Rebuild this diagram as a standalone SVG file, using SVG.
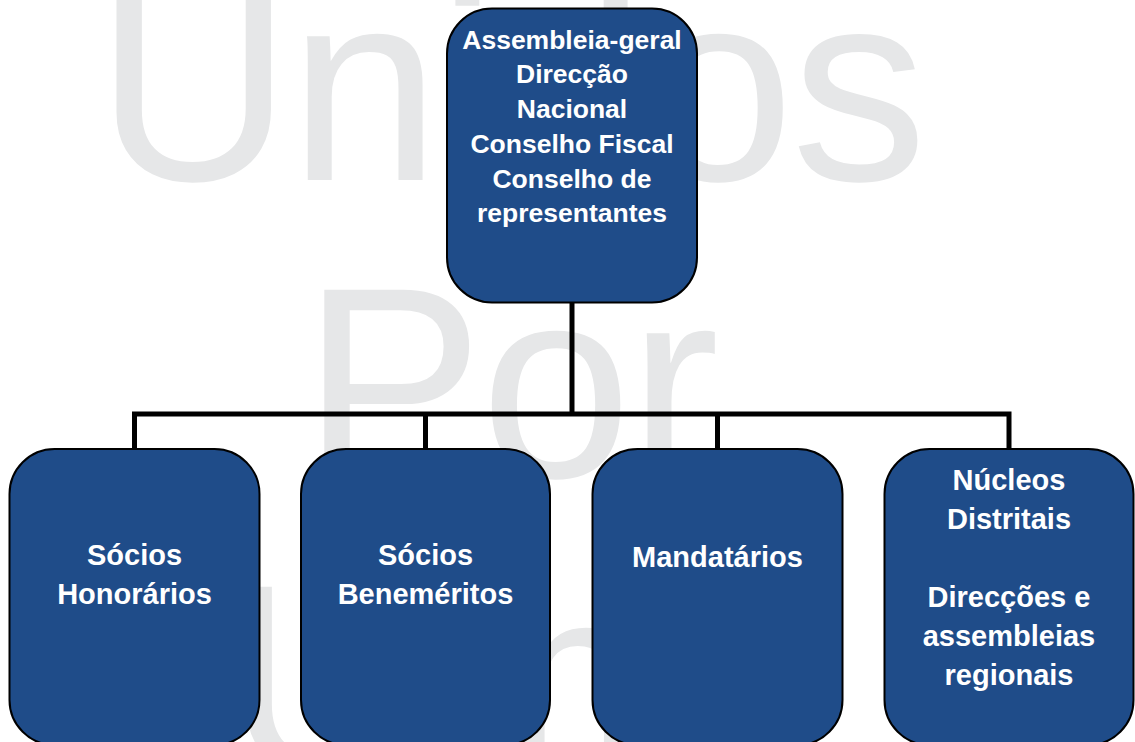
<svg xmlns="http://www.w3.org/2000/svg" width="1135" height="742" viewBox="0 0 1135 742">
  <style>
    .wm { font-family: "Liberation Sans", Arial, sans-serif; font-size: 272px; fill: #e6e7e8; letter-spacing: -3px; }
    .node { fill: #1f4c89; stroke: #000; stroke-width: 2; }
    .lbl { font-family: "Liberation Sans", Arial, sans-serif; font-weight: bold; fill: #fff; text-anchor: middle; }
    .top { font-size: 26.5px; }
    .bot { font-size: 29px; }
    .conn { fill: none; stroke: #000; stroke-width: 5; stroke-linejoin: miter; }
  </style>
  <rect width="1135" height="742" fill="#fff"/>
  <g id="watermark">
    <text class="wm" x="95.5" y="180">Unidos</text>
    <text class="wm" x="302" y="477">Por</text>
    <text class="wm" x="225.5" y="774">Um</text>
  </g>
  <g id="connectors">
    <path class="conn" d="M572 302 V414"/>
    <path class="conn" d="M134.5 449 V414 H1009 V449"/>
    <path class="conn" d="M425.5 414 V449"/>
    <path class="conn" d="M717.5 414 V449"/>
  </g>
  <g id="node-top">
    <rect class="node" x="447" y="8.5" width="250" height="294" rx="45" ry="45"/>
    <text class="lbl top" x="572" y="48.5">Assembleia-geral</text>
    <text class="lbl top" x="572" y="83.3">Direcção</text>
    <text class="lbl top" x="572" y="118">Nacional</text>
    <text class="lbl top" x="572" y="152.8">Conselho Fiscal</text>
    <text class="lbl top" x="572" y="187.6">Conselho de</text>
    <text class="lbl top" x="572" y="222.4">representantes</text>
  </g>
  <g id="node-honorarios">
    <rect class="node" x="9.5" y="449" width="250" height="296" rx="45" ry="45"/>
    <text class="lbl bot" x="134.5" y="565">Sócios</text>
    <text class="lbl bot" x="134.5" y="604">Honorários</text>
  </g>
  <g id="node-benemeritos">
    <rect class="node" x="301" y="449" width="249" height="296" rx="45" ry="45"/>
    <text class="lbl bot" x="425.5" y="565">Sócios</text>
    <text class="lbl bot" x="425.5" y="604">Beneméritos</text>
  </g>
  <g id="node-mandatarios">
    <rect class="node" x="592.5" y="449" width="250" height="296" rx="45" ry="45"/>
    <text class="lbl bot" x="717.5" y="567">Mandatários</text>
  </g>
  <g id="node-nucleos">
    <rect class="node" x="884.5" y="449" width="249" height="296" rx="45" ry="45"/>
    <text class="lbl bot" x="1009" y="490">Núcleos</text>
    <text class="lbl bot" x="1009" y="529">Distritais</text>
    <text class="lbl bot" x="1009" y="607">Direcções e</text>
    <text class="lbl bot" x="1009" y="646">assembleias</text>
    <text class="lbl bot" x="1009" y="685">regionais</text>
  </g>
</svg>
